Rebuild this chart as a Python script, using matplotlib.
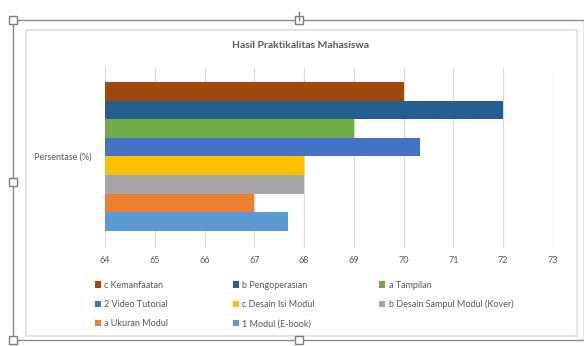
import matplotlib
matplotlib.use("Agg")
import matplotlib.pyplot as plt
from matplotlib.patches import Rectangle
from matplotlib.lines import Line2D

plt.rcParams['font.family'] = ['Lato', 'DejaVu Sans']

series = ["1 Modul (E-book)", "a Ukuran Modul", "b Desain Sampul Modul (Kover)",
          "c Desain Isi Modul", "2 Video Tutorial", "a Tampilan",
          "b Pengoperasian", "c Kemanfaatan"]
values = [67.67, 67.0, 68.0, 68.0, 70.33, 69.0, 72.0, 70.0]
colors = ["#5B9BD5", "#ED7D31", "#A5A5A5", "#FFC000", "#4472C4", "#70AD47",
          "#255E91", "#9E480E"]
category = "Persentase (%)"
xticks = list(range(64, 74))

W, H = 584, 346
fig = plt.figure(figsize=(W / 100, H / 100), dpi=100)
fig.patch.set_facecolor("white")

def fx(x): return x / W
def fy(y): return 1 - y / H

# selection frame decorations
outer = Rectangle((fx(13), fy(340)), fx(584) - fx(13), fy(20) - fy(340),
                  transform=fig.transFigure, fill=False, edgecolor="#8a8a8a", lw=1.0)
fig.add_artist(outer)
inner = Rectangle((fx(26), fy(336)), fx(577) - fx(26), fy(30) - fy(336),
                  transform=fig.transFigure, fill=False, edgecolor="#e3e3e3", lw=1.5)
fig.add_artist(inner)
for (hx, hy) in [(13, 20), (299, 20), (13, 182), (299, 340), (13, 340)]:
    fig.add_artist(Rectangle((fx(hx) - 0.007, fy(hy) - 0.012), 0.014, 0.024,
                             transform=fig.transFigure, facecolor="white",
                             edgecolor="#7f7f7f", lw=1.0))
fig.add_artist(Line2D([fx(299), fx(299)], [fy(20), fy(12)], transform=fig.transFigure,
                      color="#7f7f7f", lw=1.0))

ax = fig.add_axes([fx(105), fy(248), fx(553) - fx(105), fy(68) - fy(248)])
for i, (s, v, c) in enumerate(zip(series, values, colors)):
    ax.barh(i, v - 64, left=64, height=1.0, color=c, label=s, zorder=3)

ax.set_xlim(64, 73)
ax.set_ylim(-1.42, 8.25)
ax.set_xticks(xticks)
ax.set_xticklabels([str(t) for t in xticks], fontsize=6.5, color="#595959")
ax.tick_params(axis="x", length=0, pad=6)
ax.set_yticks([3.5])
ax.set_yticklabels([category], fontsize=6.5, color="#595959")
ax.tick_params(axis="y", length=0, pad=10)
ax.grid(axis="x", color="#d9d9d9", lw=0.8, zorder=0)
for sp in ax.spines.values():
    sp.set_visible(False)

fig.text(fx(300), fy(45), "Hasil Praktikalitas Mahasiswa", ha="center", va="center",
         fontsize=7.5, fontweight="bold", color="#595959")

handles, labels = ax.get_legend_handles_labels()
order = [7, 4, 1, 6, 3, 0, 5, 2]
leg = fig.legend([handles[i] for i in order], [labels[i] for i in order],
                 ncol=3, loc="upper left", bbox_to_anchor=(fx(90), fy(276)),
                 frameon=False, fontsize=6.5, labelcolor="#595959",
                 handlelength=0.7, handleheight=0.7, handletextpad=0.4,
                 columnspacing=7.1, labelspacing=1.15, borderpad=0)

fig.savefig("out.png", dpi=100, facecolor="white")
